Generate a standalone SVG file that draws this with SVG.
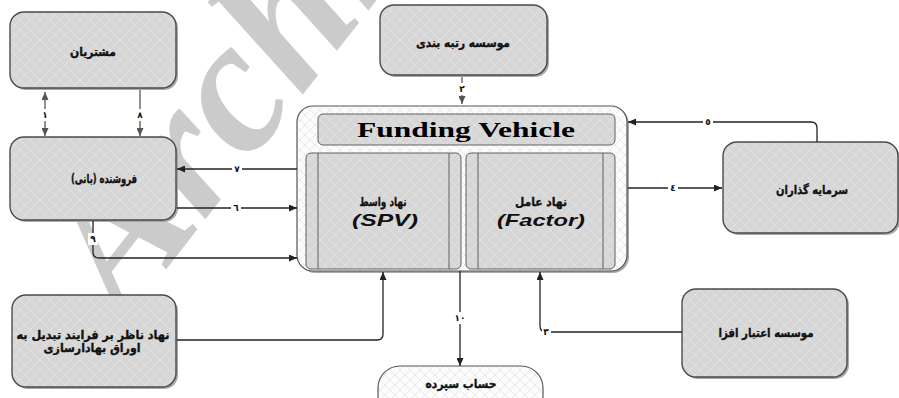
<svg xmlns="http://www.w3.org/2000/svg" width="899" height="398" viewBox="0 0 899 398">
<defs>
<pattern id="hatch" width="10" height="10" patternUnits="userSpaceOnUse">
<rect width="10" height="10" fill="#d6d6d6"/>
<path d="M0,0 L10,10 M10,0 L0,10" stroke="#e4e4e4" stroke-width="0.7"/>
</pattern>
<pattern id="hatchw" width="10" height="10" patternUnits="userSpaceOnUse">
<rect width="10" height="10" fill="#fcfcfc"/>
<path d="M0,0 L10,10 M10,0 L0,10" stroke="#e3e3e3" stroke-width="0.7"/>
</pattern>
<marker id="ah" markerWidth="8" markerHeight="7" refX="8" refY="3.5" orient="auto" markerUnits="userSpaceOnUse">
<path d="M0,0 L8,3.5 L0,7 Z" fill="#222"/>
</marker>
<marker id="ahg" markerWidth="8" markerHeight="7" refX="8" refY="3.5" orient="auto-start-reverse" markerUnits="userSpaceOnUse">
<path d="M0,0 L8,3.5 L0,7 Z" fill="#555"/>
</marker>
</defs>
<style>
.node{fill:url(#hatch);stroke:#4a4a4a;stroke-width:1.4}
.shadow{fill:#a8a8a8;stroke:none}
.wnode{fill:url(#hatchw);stroke:#555;stroke-width:1.2}
.inner{fill:url(#hatch);stroke:#606060;stroke-width:1}
.fa{font-family:"DejaVu Sans",sans-serif;font-weight:bold;font-size:12px;fill:#111;stroke:#111;stroke-width:0.35;text-anchor:middle}
.lbl{font-family:"DejaVu Sans",sans-serif;font-weight:bold;font-size:9px;fill:#111;text-anchor:middle}
.lb{fill:#fff}
.ln{fill:none;stroke:#222;stroke-width:1.3}
.lng{fill:none;stroke:#555;stroke-width:1.3}
.wm{font-family:"Liberation Serif",serif;font-style:italic;font-weight:bold;font-size:190px;fill:#cbcbcb}
</style>
<rect width="899" height="398" fill="#fff"/>
<text class="wm" transform="translate(125,322) rotate(-52)">Archi</text>

<g id="customers">
<rect class="shadow" x="12" y="14" width="166" height="76" rx="14"/>
<rect class="node" x="10" y="12" width="166" height="76" rx="14"/>
<text class="fa" x="93" y="56" textLength="46" lengthAdjust="spacingAndGlyphs">مشتریان</text>
</g>
<g id="seller">
<rect class="shadow" x="12" y="139" width="166" height="83" rx="14"/>
<rect class="node" x="10" y="137" width="166" height="83" rx="14"/>
<text class="fa" x="104" y="183" textLength="66" lengthAdjust="spacingAndGlyphs">فروشنده (بانی)</text>
</g>
<g id="supervisor">
<rect class="shadow" x="14" y="297" width="164" height="92" rx="14"/>
<rect class="node" x="12" y="295" width="164" height="92" rx="14"/>
<text class="fa" x="93" y="339" textLength="153" lengthAdjust="spacingAndGlyphs">نهاد ناظر بر فرایند تبدیل به</text>
<text class="fa" x="92" y="352" textLength="97" lengthAdjust="spacingAndGlyphs">اوراق بهادارسازی</text>
</g>
<g id="rating">
<rect class="shadow" x="382" y="7" width="167" height="70" rx="14"/>
<rect class="node" x="380" y="5" width="167" height="70" rx="14"/>
<text class="fa" x="463" y="47" textLength="94" lengthAdjust="spacingAndGlyphs">موسسه رتبه بندی</text>
</g>
<g id="investors">
<rect class="shadow" x="725" y="144" width="175" height="91" rx="14"/>
<rect class="node" x="723" y="142" width="175" height="91" rx="14"/>
<text class="fa" x="812" y="194" textLength="72" lengthAdjust="spacingAndGlyphs">سرمایه گذاران</text>
</g>
<g id="enhancer">
<rect class="shadow" x="684" y="291" width="165" height="88" rx="14"/>
<rect class="node" x="682" y="289" width="165" height="88" rx="14"/>
<text class="fa" x="766" y="337" textLength="95" lengthAdjust="spacingAndGlyphs">موسسه اعتبار افزا</text>
</g>
<g id="deposit">
<rect class="wnode" x="378" y="366" width="165" height="52" rx="22"/>
<text class="fa" x="461" y="388" textLength="71" lengthAdjust="spacingAndGlyphs">حساب سپرده</text>
</g>
<g id="funding-vehicle">
<rect class="shadow" x="299" y="108" width="330" height="165" rx="16"/>
<rect class="wnode" x="297" y="106" width="330" height="165" rx="16"/>
<rect class="inner" x="318" y="114" width="297" height="31" rx="5"/>
<text x="466" y="137" font-family="Liberation Serif,serif" font-weight="bold" font-size="21" text-anchor="middle" textLength="218" lengthAdjust="spacingAndGlyphs" fill="#000">Funding Vehicle</text>
</g>
<g id="spv">
<rect class="inner" x="306" y="153" width="155" height="116" rx="5"/>
<path d="M318,153 V269 M449,153 V269" stroke="#606060" stroke-width="1"/>
<text class="fa" x="383" y="206" textLength="47" lengthAdjust="spacingAndGlyphs">نهاد واسط</text>
<text x="385" y="226" font-family="Liberation Sans,sans-serif" font-weight="bold" font-style="italic" font-size="17" text-anchor="middle" textLength="66" lengthAdjust="spacingAndGlyphs" fill="#111">(SPV)</text>
</g>
<g id="factor">
<rect class="inner" x="466" y="153" width="149" height="116" rx="5"/>
<path d="M478,153 V269 M603,153 V269" stroke="#606060" stroke-width="1"/>
<text class="fa" x="541" y="206" textLength="52" lengthAdjust="spacingAndGlyphs">نهاد عامل</text>
<text x="541" y="226" font-family="Liberation Sans,sans-serif" font-weight="bold" font-style="italic" font-size="17" text-anchor="middle" textLength="88" lengthAdjust="spacingAndGlyphs" fill="#111">(Factor)</text>
</g>

<g id="connectors">
<path class="lng" d="M45,92 V136" marker-start="url(#ahg)" marker-end="url(#ahg)"/>
<path class="lng" d="M140,90 V136" marker-end="url(#ahg)"/>
<path class="lng" d="M462,77 V104" marker-end="url(#ahg)"/>
<path class="ln" d="M297,169 H177" marker-end="url(#ah)"/>
<path class="ln" d="M177,208 H297" marker-end="url(#ah)"/>
<path class="ln" d="M93,221 V252 Q93,258 99,258 H297" marker-end="url(#ah)"/>
<path class="ln" d="M177,340 H377 Q383,340 383,334 V272" marker-end="url(#ah)"/>
<path class="ln" d="M460,271 V366" marker-end="url(#ah)"/>
<path class="ln" d="M682,332 H546 Q540,332 540,326 V272" marker-end="url(#ah)"/>
<path class="ln" d="M817,142 V128 Q817,122 811,122 H628" marker-end="url(#ah)"/>
<path class="ln" d="M628,188 H722" marker-end="url(#ah)"/>

<rect class="lb" x="41" y="109" width="8" height="12"/><text class="lbl" x="45" y="118">١</text>
<rect class="lb" x="136" y="109" width="8" height="12"/><text class="lbl" x="140" y="118">٨</text>
<rect class="lb" x="458" y="83" width="8" height="12"/><text class="lbl" x="462" y="92">٢</text>
<rect class="lb" x="232" y="163" width="10" height="12"/><text class="lbl" x="237" y="172">٧</text>
<rect class="lb" x="231" y="202" width="10" height="12"/><text class="lbl" x="236" y="211">٦</text>
<rect class="lb" x="88" y="233" width="10" height="12"/><text class="lbl" x="93" y="242">٩</text>
<rect class="lb" x="454" y="312" width="12" height="12"/><text class="lbl" x="460" y="321">١٠</text>
<rect class="lb" x="542" y="326" width="9" height="12"/><text class="lbl" x="546" y="335">٣</text>
<rect class="lb" x="703" y="116" width="10" height="12"/><text class="lbl" x="708" y="125">٥</text>
<rect class="lb" x="668" y="182" width="10" height="12"/><text class="lbl" x="673" y="191">٤</text>
</g>
</svg>
